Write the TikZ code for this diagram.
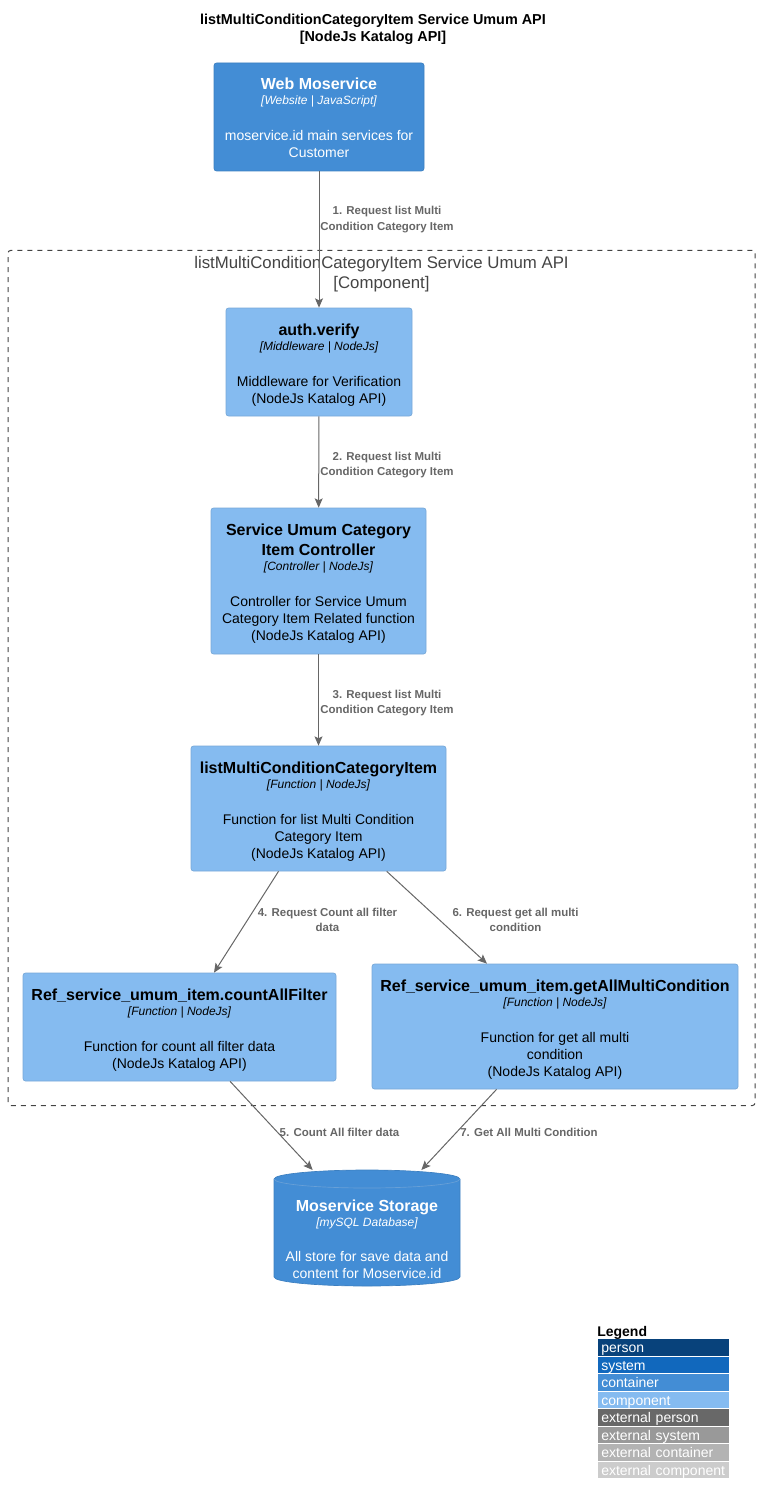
\documentclass[tikz,border=0pt]{standalone}
\usepackage{fontspec}
\setmainfont{Liberation Sans}
\usetikzlibrary{arrows.meta}

\definecolor{contblue}{HTML}{438DD5}
\definecolor{contedge}{HTML}{3C7FC0}
\definecolor{compblue}{HTML}{85BBF0}
\definecolor{compedge}{HTML}{78A8D8}
\definecolor{arrgray}{HTML}{666666}
\definecolor{bndgray}{HTML}{444444}
\definecolor{lgperson}{HTML}{08427B}
\definecolor{lgsystem}{HTML}{1168BD}
\definecolor{lgextperson}{HTML}{686868}
\definecolor{lgextsystem}{HTML}{999999}
\definecolor{lgextcont}{HTML}{B3B3B3}
\definecolor{lgextcomp}{HTML}{CCCCCC}

% font sizes (1px = 0.75pt)
\newcommand\fTitle{\fontsize{10.8}{13}\selectfont\bfseries}
\newcommand\fHead{\fontsize{12}{14}\selectfont\bfseries}
\newcommand\fTech{\fontsize{9}{11}\selectfont\itshape}
\newcommand\fDesc{\fontsize{10.5}{12}\selectfont}
\newcommand\fLab{\fontsize{8.6}{10}\selectfont\bfseries}
\newcommand\fBnd{\fontsize{12.6}{15}\selectfont}
\newcommand\fLeg{\fontsize{10.5}{12}\selectfont}

\tikzset{
  cont/.style={draw=contedge, fill=contblue, line width=0.5pt, rounded corners=1.9pt, inner sep=0pt},
  comp/.style={draw=compedge, fill=compblue, line width=0.5pt, rounded corners=1.9pt, inner sep=0pt},
  ghost/.style={inner sep=0pt, outer sep=0pt},
  ln/.style={inner sep=0pt, anchor=base},
  wt/.style={ln, text=white},
  bt/.style={ln, text=black},
  lab/.style={ln, text=arrgray, font=\fLab},
  arr/.style={draw=arrgray, line width=0.75pt, -{Stealth[length=7pt, width=6pt, inset=1.5pt]}},
  bnd/.style={draw=bndgray, line width=0.75pt, dash pattern=on 3.75pt off 3.75pt, rounded corners=1.9pt, inner sep=0pt},
  legrow/.style={anchor=north west, text=white, font=\fLeg, align=left,
    text width=93.75pt, inner xsep=2.25pt, inner ysep=0.375pt,
    text height=9.75pt, text depth=1.875pt},
}

\begin{document}
\begin{tikzpicture}[x=0.75pt, y=-0.75pt]
\useasboundingbox (0,0) rectangle (759,1505);

% diagram title
\node[bt, font=\fTitle] (title1) at (373,25) {listMultiConditionCategoryItem Service Umum API};
\node[bt, font=\fTitle] (title2) at (373,42) {[NodeJs Katalog API]};

% component boundary
\node[bnd, minimum width=560.25pt, minimum height=641.25pt] (boundary) at (381.5,678) {};
\node[ln, text=bndgray, font=\fBnd] (bnd1) at (381.5,268) {listMultiConditionCategoryItem Service Umum API};
\node[ln, text=bndgray, font=\fBnd] (bnd2) at (381.5,288) {[Component]};

% Web Moservice (container)
\node[cont, minimum width=157.5pt, minimum height=81pt] (web) at (319,117) {};
\node[wt, font=\fHead] (web1) at (319,90) {Web Moservice};
\node[wt, font=\fTech] (web2) at (319,105) {[Website | JavaScript]};
\node[wt, font=\fDesc] (web3) at (319,141) {moservice.id main services for};
\node[wt, font=\fDesc] (web4) at (319,158) {Customer};

% auth.verify
\node[comp, minimum width=139.5pt, minimum height=81pt] (auth) at (319,362) {};
\node[bt, font=\fHead] (auth1) at (319,335) {auth.verify};
\node[bt, font=\fTech] (auth2) at (319,350) {[Middleware | NodeJs]};
\node[bt, font=\fDesc] (auth3) at (319,386) {Middleware for Verification};
\node[bt, font=\fDesc] (auth4) at (319,403) {(NodeJs Katalog API)};

% controller
\node[comp, minimum width=161.25pt, minimum height=109.5pt] (ctrl) at (318.5,581) {};
\node[bt, font=\fHead] (ctrl1) at (318.5,535) {Service Umum Category};
\node[bt, font=\fHead] (ctrl2) at (318.5,555) {Item Controller};
\node[bt, font=\fTech] (ctrl3) at (318.5,570) {[Controller | NodeJs]};
\node[bt, font=\fDesc] (ctrl4) at (318.5,606) {Controller for Service Umum};
\node[bt, font=\fDesc] (ctrl5) at (318.5,623) {Category Item Related function};
\node[bt, font=\fDesc] (ctrl6) at (318.5,640) {(NodeJs Katalog API)};

% listMultiConditionCategoryItem
\node[comp, minimum width=191.25pt, minimum height=93.75pt] (list) at (318.5,808.5) {};
\node[bt, font=\fHead] (list1) at (318.5,773) {listMultiConditionCategoryItem};
\node[bt, font=\fTech] (list2) at (318.5,788) {[Function | NodeJs]};
\node[bt, font=\fDesc] (list3) at (318.5,824) {Function for list Multi Condition};
\node[bt, font=\fDesc] (list4) at (318.5,841) {Category Item};
\node[bt, font=\fDesc] (list5) at (318.5,858) {(NodeJs Katalog API)};

% countAllFilter
\node[comp, minimum width=234.75pt, minimum height=81pt] (count) at (179.5,1027) {};
\node[bt, font=\fHead] (count1) at (179.5,1000) {Ref\_service\_umum\_item.countAllFilter};
\node[bt, font=\fTech] (count2) at (179.5,1015) {[Function | NodeJs]};
\node[bt, font=\fDesc] (count3) at (179.5,1051) {Function for count all filter data};
\node[bt, font=\fDesc] (count4) at (179.5,1068) {(NodeJs Katalog API)};

% getAllMultiCondition
\node[comp, minimum width=274.5pt, minimum height=93.75pt] (getall) at (555,1026.5) {};
\node[bt, font=\fHead] (getall1) at (555,991) {Ref\_service\_umum\_item.getAllMultiCondition};
\node[bt, font=\fTech] (getall2) at (555,1006) {[Function | NodeJs]};
\node[bt, font=\fDesc] (getall3) at (555,1042) {Function for get all multi};
\node[bt, font=\fDesc] (getall4) at (555,1059) {condition};
\node[bt, font=\fDesc] (getall5) at (555,1076) {(NodeJs Katalog API)};

% Moservice Storage (database cylinder)
\fill[contblue, draw=contedge, line width=0.5pt]
  (274,1179) -- (274,1277)
  arc[start angle=180, end angle=360, x radius=69.75pt, y radius=6.75pt]
  -- (460,1179)
  arc[start angle=0, end angle=180, x radius=69.75pt, y radius=6.75pt] -- cycle;
\draw[draw=compedge!70!contblue, line width=0.5pt]
  (274,1179) arc[start angle=180, end angle=360, x radius=69.75pt, y radius=6.75pt];
\node[ghost, minimum width=139.5pt, minimum height=87.75pt] (db) at (367,1228.5) {};
\node[wt, font=\fHead] (db1) at (367,1211) {Moservice Storage};
\node[wt, font=\fTech] (db2) at (367,1226) {[mySQL Database]};
\node[wt, font=\fDesc] (db3) at (367,1261) {All store for save data and};
\node[wt, font=\fDesc] (db4) at (367,1278) {content for Moservice.id};

% relations
\draw[arr] (web) -- (auth);
\node[lab] (r1a) at (387,215) {1. Request list Multi};
\node[lab] (r1b) at (387,231) {Condition Category Item};

\draw[arr] (auth) -- (ctrl);
\node[lab] (r2a) at (387,460) {2. Request list Multi};
\node[lab] (r2b) at (387,475) {Condition Category Item};

\draw[arr] (ctrl) -- (list);
\node[lab] (r3a) at (387,698) {3. Request list Multi};
\node[lab] (r3b) at (387,713) {Condition Category Item};

\draw[arr] (list) -- (count);
\node[lab] (r4a) at (327.5,916) {4. Request Count all filter};
\node[lab] (r4b) at (327.5,931) {data};

\draw[arr] (list) -- (getall);
\node[lab] (r6a) at (515.5,916) {6. Request get all multi};
\node[lab] (r6b) at (515.5,931) {condition};

\draw[arr] (count) -- (db);
\node[lab] (r5) at (339.5,1136) {5. Count All filter data};

\draw[arr] (getall) -- (db);
\node[lab] (r7) at (529,1136) {7. Get All Multi Condition};

% legend
\node[ln, font=\fLeg\bfseries, anchor=base west] (leg) at (597,1336) {Legend};
\node[legrow, fill=lgperson]    (lg1) at (598,1339.0) {person};
\node[legrow, fill=lgsystem]    (lg2) at (598,1356.5) {system};
\node[legrow, fill=contblue]    (lg3) at (598,1374.0) {container};
\node[legrow, fill=compblue]    (lg4) at (598,1391.5) {component};
\node[legrow, fill=lgextperson] (lg5) at (598,1409.0) {external person};
\node[legrow, fill=lgextsystem] (lg6) at (598,1426.5) {external system};
\node[legrow, fill=lgextcont]   (lg7) at (598,1444.0) {external container};
\node[legrow, fill=lgextcomp]   (lg8) at (598,1461.5) {external component};
\end{tikzpicture}
\end{document}
